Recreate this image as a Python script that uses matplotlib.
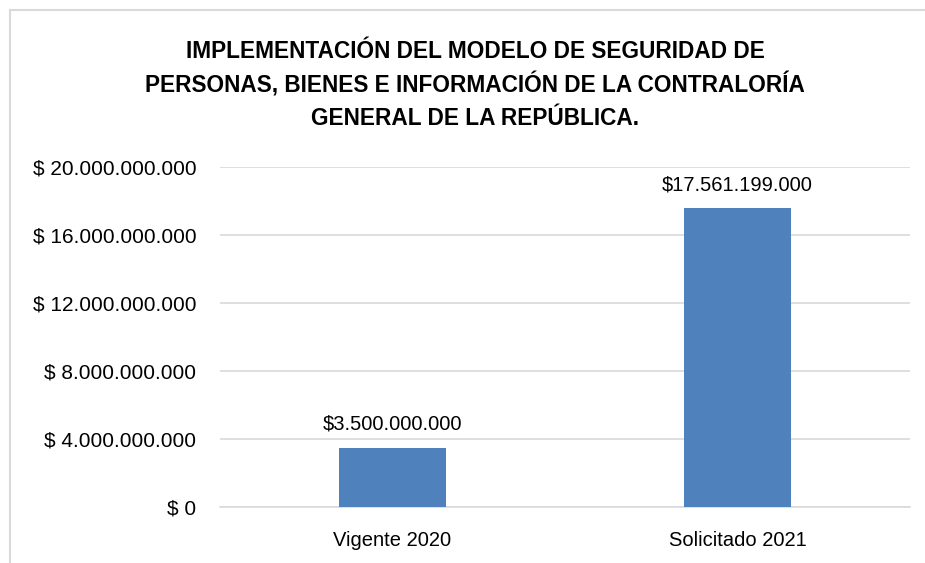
import matplotlib
matplotlib.use("Agg")
import matplotlib.pyplot as plt
from matplotlib.patches import Rectangle
from matplotlib.ticker import FuncFormatter

categories = ["Vigente 2020", "Solicitado 2021"]
values = [3500000000, 17561199000]
yticks = [0, 4000000000, 8000000000, 12000000000, 16000000000, 20000000000]
title = ("IMPLEMENTACIÓN DEL MODELO DE SEGURIDAD DE\n"
         "PERSONAS, BIENES E INFORMACIÓN DE LA CONTRALORÍA\n"
         "GENERAL DE LA REPÚBLICA.")

plt.rcParams["font.family"] = ["Liberation Sans", "DejaVu Sans"]


def money(v, _pos=None):
    return "$ " + f"{int(v):,}".replace(",", ".")


fig = plt.figure(figsize=(9.25, 5.63), dpi=100)
fig.patches.append(Rectangle((10 / 925, -0.1), 1.2, 1 - 10 / 563 + 0.1,
                             transform=fig.transFigure, fill=False,
                             edgecolor="#D9D9D9", linewidth=1.5))
ax = fig.add_axes([220 / 925, (563 - 507) / 563, 690 / 925, 340 / 563])

ax.bar(categories, values, width=0.31, color="#4F81BD", zorder=3)
for i, v in enumerate(values):
    ax.text(i, v + 800000000, "$" + f"{v:,}".replace(",", "."),
            ha="center", va="bottom", fontsize=14.5)

ax.set_ylim(0, 20000000000)
ax.set_xlim(-0.5, 1.5)
ax.set_yticks(yticks)
ax.yaxis.set_major_formatter(FuncFormatter(money))
ax.grid(axis="y", color="#D9D9D9", linewidth=1.2, zorder=0)
ax.tick_params(axis="both", length=0, labelsize=15)
ax.tick_params(axis="x", pad=17, labelsize=14.5)
ax.tick_params(axis="y", pad=17)
for s in ["top", "right", "left"]:
    ax.spines[s].set_visible(False)
ax.spines["bottom"].set_color("#D9D9D9")
ax.spines["bottom"].set_linewidth(1.2)

fig.text(475 / 925, 1 - 40 / 563, title, ha="center", va="top", fontsize=16.3,
         fontweight="bold", linespacing=1.5)

fig.savefig("out.png", dpi=100, facecolor="white")
